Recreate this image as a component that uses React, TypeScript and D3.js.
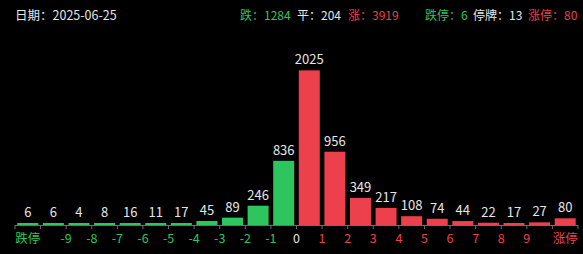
import React from "react";
import * as d3 from "d3";

// Distribution of daily price changes (%), one bar per bucket
const categories = [
  "跌停",
  "-10~-9", "-9~-8", "-8~-7", "-7~-6", "-6~-5", "-5~-4", "-4~-3", "-3~-2", "-2~-1", "-1~0",
  "0~1", "1~2", "2~3", "3~4", "4~5", "5~6", "6~7", "7~8", "8~9", "9~10",
  "涨停",
];
const counts = [
  6,
  6, 4, 8, 16, 11, 17, 45, 89, 246, 836,
  2025, 956, 349, 217, 108, 74, 44, 22, 17, 27,
  80,
];
// Boundary tick labels (percent values between buckets)
const boundaryTicks = [-9, -8, -7, -6, -5, -4, -3, -2, -1, 0, 1, 2, 3, 4, 5, 6, 7, 8, 9];

const dateLabel = "日期：2025-06-25";
const summaryItems = [
  { text: "跌：1284", tone: "down", x: 240 },
  { text: "平：204", tone: "flat", x: 297 },
  { text: "涨：3919", tone: "up", x: 348 },
  { text: "跌停：6", tone: "down", x: 425 },
  { text: "停牌：13", tone: "flat", x: 473 },
  { text: "涨停：80", tone: "up", x: 528 },
];

const W = 583;
const H = 254;
const GREEN = "#2ec55f";
const RED = "#ec404c";
const WHITE = "#e6e6e6";
const FONT = "'Noto Sans CJK SC', 'Noto Sans', sans-serif";

const toneColor = (t: string) => (t === "down" ? GREEN : t === "up" ? RED : WHITE);

export default function App() {
  const x = d3.scaleBand<string>().domain(categories).range([15, 578]).paddingInner(0.18).paddingOuter(0.09);
  const step = x.step();
  const y = d3.scaleLinear().domain([0, d3.max(counts) as number]).range([225, 71]);
  const baseY = y(0);
  const isUp = (i: number) => i >= 11;

  // left edge of a bucket's slot
  const slotLeft = (cat: string) => (x(cat) as number) - (step * x.paddingInner()) / 2;
  const boundaryX = (n: number) => slotLeft(`${n}~${n + 1}`);

  const allTickX = categories.map((c) => slotLeft(c)).concat([slotLeft(categories[categories.length - 1]) + step]);

  return (
    <svg
      width={W}
      height={H}
      style={{ position: "fixed", left: 0, top: 0, background: "#000", display: "block" }}
      fontFamily={FONT}
    >
      <rect x={0} y={0} width={W} height={H} fill="#000" />
      <text x={15} y={20} fontSize={12.5} fill={WHITE}>{dateLabel}</text>
      {summaryItems.map((s) => (
        <text key={s.text} x={s.x} y={20} fontSize={12} fill={toneColor(s.tone)}>{s.text}</text>
      ))}

      {categories.map((c, i) => {
        const h = Math.max(2, baseY - y(counts[i]) + 0.6);
        return (
          <g key={c}>
            <rect
              x={x(c)}
              y={baseY - h}
              width={x.bandwidth()}
              height={h}
              fill={isUp(i) ? RED : GREEN}
            />
            <text
              x={(x(c) as number) + x.bandwidth() / 2}
              y={baseY - h - 6}
              textAnchor="middle"
              fontSize={13}
              fill={WHITE}
            >
              {counts[i]}
            </text>
          </g>
        );
      })}

      {/* axis */}
      <line x1={15} x2={578} y1={baseY + 0.5} y2={baseY + 0.5} stroke="#6e6e6e" strokeWidth={1} />
      {allTickX.map((tx, i) => (
        <line key={i} x1={tx} x2={tx} y1={baseY} y2={baseY + 4} stroke="#6e6e6e" strokeWidth={1} />
      ))}

      <text
        x={(x(categories[0]) as number) + x.bandwidth() / 2}
        y={243}
        textAnchor="middle"
        fontSize={12.5}
        fill={GREEN}
      >
        跌停
      </text>
      {boundaryTicks.map((n) => (
        <text
          key={n}
          x={boundaryX(n)}
          y={243}
          textAnchor="middle"
          fontSize={12.5}
          fill={n < 0 ? GREEN : n > 0 ? RED : WHITE}
        >
          {n}
        </text>
      ))}
      <text
        x={(x(categories[categories.length - 1]) as number) + x.bandwidth() / 2}
        y={243}
        textAnchor="middle"
        fontSize={12.5}
        fill={RED}
      >
        涨停
      </text>
    </svg>
  );
}
